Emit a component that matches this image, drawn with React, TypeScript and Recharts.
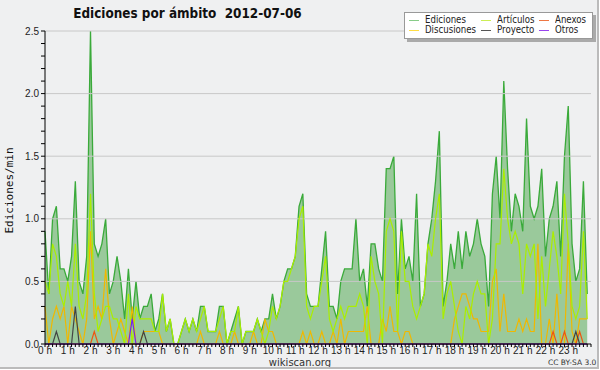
import { Area, ComposedChart, Line, ReferenceLine, XAxis, YAxis } from 'recharts'

const FONT = '"DejaVu Sans", sans-serif'
const TICK_FONT = '"Liberation Sans", Arial, sans-serif'
const MONO = '"DejaVu Sans Mono", monospace'

const HOUR_LABELS = [
  '0 h', '1 h', '2 h', '3 h', '4 h', '5 h', '6 h', '7 h', '8 h', '9 h', '10 h', '11 h',
  '12 h', '13 h', '14 h', '15 h', '16 h', '17 h', '18 h', '19 h', '20 h', '21 h', '22 h', '23 h',
]

// edits per minute, one value per 10-minute slot
const EDICIONES = [
  0.9, 0.4, 1.0, 1.1, 0.6, 0.6, 0.5, 0.7, 1.3, 0.5, 0.4, 0.7,
  2.5, 0.8, 0.7, 0.8, 1.0, 0.4, 0.5, 0.7, 0.5, 0.2, 0.6, 0.2,
  0.5, 0.2, 0.3, 0.3, 0.4, 0.1, 0.2, 0.4, 0.1, 0.2, 0.0, 0.0,
  0.1, 0.2, 0.1, 0.2, 0.1, 0.3, 0.3, 0.1, 0.1, 0.1, 0.3, 0.3,
  0.0, 0.1, 0.2, 0.3, 0.0, 0.1, 0.1, 0.1, 0.2, 0.1, 0.2, 0.2,
  0.4, 0.2, 0.3, 0.5, 0.6, 0.6, 0.7, 1.1, 1.2, 0.4, 0.3, 0.3,
  0.3, 0.6, 0.9, 0.3, 0.3, 0.2, 0.5, 0.6, 0.6, 0.6, 1.0, 0.5,
  0.6, 0.3, 0.8, 0.8, 0.6, 0.5, 1.4, 1.4, 1.5, 0.4, 1.0, 0.6,
  0.7, 0.5, 1.2, 0.3, 0.4, 0.8, 1.0, 1.3, 1.7, 0.3, 0.5, 0.8,
  0.6, 0.9, 0.6, 0.9, 0.7, 0.8, 1.0, 0.8, 0.7, 0.3, 1.2, 1.5,
  1.0, 2.1, 1.4, 0.9, 1.2, 1.1, 0.9, 1.8, 1.1, 1.0, 1.1, 1.4,
  0.7, 1.0, 1.1, 1.3, 0.7, 1.5, 1.9, 0.8, 0.5, 0.6, 1.3, 0.4,
]
const ARTICULOS = [
  0.5, 0.4, 0.8, 0.7, 0.4, 0.3, 0.5, 0.3, 0.8, 0.3, 0.2, 0.4,
  1.2, 0.4, 0.1, 0.2, 0.3, 0.3, 0.2, 0.2, 0.1, 0.0, 0.4, 0.0,
  0.3, 0.2, 0.2, 0.2, 0.2, 0.1, 0.1, 0.4, 0.1, 0.2, 0.0, 0.0,
  0.1, 0.2, 0.1, 0.2, 0.1, 0.2, 0.3, 0.1, 0.1, 0.1, 0.2, 0.3,
  0.0, 0.1, 0.1, 0.3, 0.0, 0.1, 0.1, 0.1, 0.2, 0.1, 0.0, 0.1,
  0.3, 0.2, 0.3, 0.5, 0.5, 0.6, 0.7, 1.0, 1.1, 0.3, 0.2, 0.3,
  0.3, 0.5, 0.7, 0.2, 0.1, 0.2, 0.3, 0.2, 0.3, 0.3, 0.3, 0.4,
  0.3, 0.0, 0.7, 0.5, 0.4, 0.0, 0.9, 1.0, 0.9, 0.1, 0.9, 0.5,
  0.5, 0.3, 0.2, 0.3, 0.4, 0.8, 0.7, 1.0, 1.2, 0.2, 0.4, 0.5,
  0.3, 0.1, 0.0, 0.3, 0.2, 0.4, 0.5, 0.4, 0.4, 0.0, 0.2, 0.8,
  0.8, 1.4, 1.0, 0.8, 0.9, 0.8, 0.4, 0.8, 0.7, 0.8, 0.2, 0.7,
  0.3, 0.6, 0.9, 0.7, 0.4, 1.2, 0.8, 0.3, 0.2, 0.3, 0.9, 0.2,
]
const DISCUSIONES = [
  0.3, 0.0, 0.2, 0.3, 0.2, 0.3, 0.0, 0.3, 0.2, 0.1, 0.0, 0.2,
  0.9, 0.2, 0.3, 0.2, 0.6, 0.2, 0.0, 0.1, 0.2, 0.1, 0.0, 0.3,
  0.0, 0.0, 0.1, 0.1, 0.1, 0.1, 0.1, 0.0, 0.0, 0.0, 0.0, 0.0,
  0.0, 0.0, 0.0, 0.0, 0.0, 0.1, 0.0, 0.0, 0.0, 0.0, 0.1, 0.0,
  0.0, 0.0, 0.1, 0.0, 0.0, 0.0, 0.0, 0.1, 0.0, 0.0, 0.2, 0.1,
  0.1, 0.0, 0.0, 0.0, 0.0, 0.0, 0.0, 0.0, 0.1, 0.0, 0.1, 0.0,
  0.0, 0.1, 0.0, 0.0, 0.1, 0.0, 0.2, 0.0, 0.1, 0.1, 0.1, 0.1,
  0.1, 0.3, 0.0, 0.0, 0.0, 0.2, 0.1, 0.3, 0.1, 0.1, 0.0, 0.1,
  0.1, 0.0, 0.0, 0.0, 0.0, 0.0, 0.0, 0.0, 0.0, 0.0, 0.0, 0.0,
  0.2, 0.3, 0.4, 0.4, 0.3, 0.2, 0.2, 0.1, 0.1, 0.1, 0.5, 0.6,
  0.1, 0.4, 0.1, 0.1, 0.1, 0.2, 0.1, 0.2, 0.1, 0.1, 0.8, 0.0,
  0.0, 0.2, 0.0, 0.4, 0.0, 0.0, 0.8, 0.1, 0.0, 0.2, 0.2, 0.2,
]
const ANEXOS = [
  0, 0, 0, 0, 0, 0, 0, 0, 0, 0, 0, 0,
  0, 0.1, 0, 0, 0, 0, 0, 0, 0, 0, 0, 0,
  0, 0, 0, 0, 0, 0, 0, 0, 0, 0, 0, 0,
  0, 0, 0, 0, 0, 0, 0, 0, 0, 0, 0, 0,
  0, 0, 0, 0, 0, 0, 0, 0, 0, 0, 0, 0,
  0, 0, 0, 0, 0, 0, 0, 0, 0, 0, 0, 0,
  0, 0, 0, 0, 0, 0, 0, 0, 0, 0, 0, 0,
  0, 0, 0, 0, 0, 0, 0, 0, 0, 0, 0, 0,
  0, 0, 0, 0, 0, 0, 0, 0, 0, 0, 0, 0,
  0, 0, 0, 0, 0, 0, 0, 0, 0, 0, 0, 0,
  0, 0, 0, 0, 0, 0, 0, 0, 0, 0, 0, 0,
  0, 0, 0.1, 0, 0, 0.1, 0, 0, 0, 0.1, 0, 0,
]
const PROYECTO = [
  0, 0, 0, 0.1, 0, 0, 0, 0, 0.3, 0, 0, 0,
  0, 0, 0, 0, 0, 0, 0, 0, 0, 0, 0, 0,
  0, 0, 0.1, 0, 0, 0, 0, 0, 0, 0, 0, 0,
  0, 0, 0, 0, 0, 0, 0, 0, 0, 0, 0, 0,
  0, 0, 0, 0, 0, 0, 0, 0, 0, 0, 0, 0,
  0, 0, 0, 0, 0, 0, 0, 0, 0, 0, 0, 0,
  0, 0, 0, 0, 0, 0, 0, 0, 0, 0, 0, 0,
  0, 0, 0, 0, 0, 0, 0, 0, 0, 0, 0, 0,
  0, 0, 0, 0, 0, 0, 0, 0, 0, 0, 0, 0,
  0, 0, 0, 0, 0, 0, 0, 0, 0, 0, 0, 0,
  0, 0, 0, 0, 0, 0, 0, 0, 0, 0, 0, 0,
  0, 0, 0, 0, 0, 0, 0, 0, 0.1, 0, 0, 0,
]
const OTROS = [
  0, 0, 0, 0, 0, 0, 0, 0, 0, 0, 0, 0,
  0, 0, 0, 0, 0, 0, 0, 0, 0, 0, 0, 0.2,
  0, 0, 0, 0, 0, 0, 0, 0, 0, 0, 0, 0,
  0, 0, 0, 0, 0, 0, 0, 0, 0, 0, 0, 0,
  0, 0, 0, 0, 0, 0, 0, 0, 0, 0, 0, 0,
  0, 0, 0, 0, 0, 0, 0, 0, 0, 0, 0, 0,
  0, 0, 0, 0, 0, 0, 0, 0, 0, 0, 0, 0,
  0, 0, 0, 0, 0, 0, 0, 0, 0, 0, 0, 0,
  0, 0, 0, 0, 0, 0, 0, 0, 0, 0, 0, 0,
  0, 0, 0, 0, 0, 0, 0, 0, 0, 0, 0, 0,
  0, 0, 0, 0, 0, 0, 0, 0, 0, 0, 0, 0,
  0, 0, 0, 0, 0, 0, 0, 0, 0, 0, 0, 0,
]

const data = EDICIONES.map((ed, i) => ({
  slot: i,
  ed,
  art: ARTICULOS[i],
  disc: DISCUSIONES[i],
  anx: ANEXOS[i],
  proy: PROYECTO[i],
  otros: OTROS[i],
}))

const X_TICKS = Array.from({ length: 145 }, (_, i) => i)
const Y_TICKS = Array.from({ length: 26 }, (_, i) => i / 10)
const GRID = [0.5, 1.0, 1.5, 2.0, 2.5]

const LEGEND = [
  { label: 'Ediciones', color: '#88cc88' },
  { label: 'Artículos', color: '#ccee55' },
  { label: 'Anexos', color: '#ee7744' },
  { label: 'Discusiones', color: '#ffdd44' },
  { label: 'Proyecto', color: '#555555' },
  { label: 'Otros', color: '#9944ee' },
]

function XTick(props: any) {
  const { x, y, payload } = props
  const v = payload.value
  if (v % 6 !== 0 || v >= 144) return <g />
  return (
    <text x={x} y={y + 5} textAnchor="middle" fontSize={10} fill="#222" fontFamily={TICK_FONT}>
      {HOUR_LABELS[v / 6]}
    </text>
  )
}

function YTick(props: any) {
  const { x, y, payload } = props
  const v = payload.value
  if (Math.round(v * 10) % 5 !== 0) return <g />
  return (
    <text x={x} y={y + 3.5} textAnchor="end" fontSize={10} fill="#222" fontFamily={TICK_FONT}>
      {v.toFixed(1)}
    </text>
  )
}

export default function App() {
  return (
    <div
      style={{
        position: 'absolute',
        left: 0,
        top: 0,
        width: 597,
        height: 367,
        background: '#eff0f1',
        borderRight: '2px solid #bbb',
        borderBottom: '2px solid #bbb',
        fontFamily: FONT,
        overflow: 'hidden',
      }}
    >
      <div
        style={{
          position: 'absolute',
          left: 0,
          top: 5,
          width: 375,
          textAlign: 'center',
          fontSize: 14,
          fontWeight: 'bold',
          color: '#111',
          whiteSpace: 'pre',
          transform: 'scaleX(0.86)',
        }}
      >
        {'Ediciones por ámbito  2012-07-06'}
      </div>

      <ComposedChart
        width={600}
        height={370}
        data={data}
        margin={{ top: 31, right: 9, left: 0, bottom: 6 }}
        style={{ position: 'absolute', left: 0, top: 0 }}
      >
        <XAxis
          dataKey="slot"
          type="number"
          domain={[0, 144]}
          ticks={X_TICKS}
          interval={0}
          tick={XTick}
          tickSize={3}
          height={20}
          axisLine={{ stroke: '#000' }}
          tickLine={{ stroke: '#000' }}
        />
        <YAxis
          type="number"
          domain={[0, 2.5]}
          ticks={Y_TICKS}
          interval={0}
          tick={YTick}
          tickSize={4}
          width={45}
          axisLine={{ stroke: '#000' }}
          tickLine={{ stroke: '#000' }}
        />
        {GRID.map((g) => (
          <ReferenceLine key={g} y={g} stroke="#c8c8c8" strokeWidth={1} />
        ))}
        <Area
          type="linear"
          dataKey="ed"
          stroke="#3aaa3a"
          strokeWidth={1.3}
          fill="#339933"
          fillOpacity={0.45}
          isAnimationActive={false}
          dot={false}
          activeDot={false}
        />
        <Line type="linear" dataKey="disc" stroke="#f0b800" strokeWidth={1.2} dot={false} isAnimationActive={false} />
        <Line type="linear" dataKey="art" stroke="#aaee00" strokeWidth={1.2} dot={false} isAnimationActive={false} />
        <Line type="linear" dataKey="anx" stroke="#ee5511" strokeWidth={1.2} dot={false} isAnimationActive={false} />
        <Line type="linear" dataKey="proy" stroke="#444444" strokeWidth={1.2} dot={false} isAnimationActive={false} />
        <Line type="linear" dataKey="otros" stroke="#7722ee" strokeWidth={1.2} dot={false} isAnimationActive={false} />
      </ComposedChart>

      <div
        style={{
          position: 'absolute',
          left: 3,
          top: 150,
          width: 12,
          height: 80,
          display: 'flex',
          alignItems: 'center',
          justifyContent: 'center',
        }}
      >
        <div style={{ transform: 'rotate(-90deg)', fontFamily: MONO, fontSize: 11, color: '#111', whiteSpace: 'nowrap' }}>
          Ediciones/min
        </div>
      </div>

      <div
        style={{
          position: 'absolute',
          left: 404,
          top: 12,
          width: 187,
          height: 25,
          background: '#fff',
          border: '1px solid #999',
          boxShadow: '3px 3px 0 #aaa',
        }}
      >
        {LEGEND.map((item, i) => {
          const col = i % 3
          const row = Math.floor(i / 3)
          const left = [4, 76, 134][col]
          return (
            <div
              key={item.label}
              style={{
                position: 'absolute',
                left,
                top: 2 + row * 10,
                height: 10,
                display: 'flex',
                alignItems: 'center',
                fontSize: 10,
                lineHeight: '10px',
                color: '#222',
                whiteSpace: 'nowrap',
              }}
            >
              <span style={{ display: 'inline-block', width: 10, height: 1, background: item.color, marginRight: 6 }} />
              <span style={{ display: 'inline-block', transform: 'scaleX(0.86)', transformOrigin: 'left center' }}>
                {item.label}
              </span>
            </div>
          )
        })}
      </div>

      <div
        style={{
          position: 'absolute',
          left: 250,
          top: 358,
          width: 100,
          textAlign: 'center',
          fontSize: 10,
          lineHeight: '9px',
          color: '#333',
        }}
      >
        wikiscan.org
      </div>
      <div style={{ position: 'absolute', left: 548, top: 359, fontSize: 7.5, lineHeight: '8px', color: '#333', whiteSpace: 'nowrap' }}>
        CC BY-SA 3.0
      </div>
    </div>
  )
}
